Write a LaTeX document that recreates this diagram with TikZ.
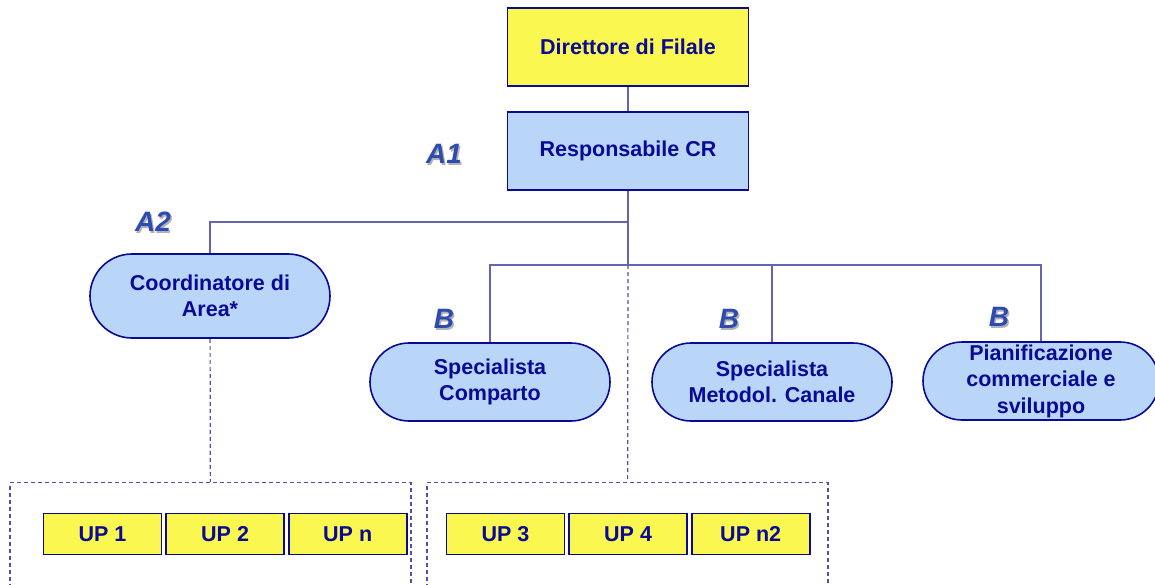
\documentclass[tikz,border=0pt]{standalone}
\usepackage{fontspec}
\setmainfont{Liberation Sans}
\usetikzlibrary{positioning,shapes.misc}
\definecolor{navy}{RGB}{10,10,150}
\definecolor{boxyellow}{RGB}{250,247,80}
\definecolor{boxblue}{RGB}{185,213,248}
\definecolor{linkblue}{RGB}{100,100,175}
\definecolor{dashblue}{RGB}{80,80,170}
\definecolor{tagblue}{RGB}{45,75,176}
\tikzset{
  orgbox/.style={rectangle, draw=navy, line width=1.6pt, text=navy, font=\fontsize{21.5}{26.5}\selectfont\bfseries, align=center, minimum width=241pt, minimum height=78pt, inner sep=0pt},
  pill/.style={rounded rectangle, draw=navy, line width=1.6pt, fill=boxblue, text=navy, font=\fontsize{21.5}{26.5}\selectfont\bfseries, align=center, minimum width=240pt, minimum height=78pt, inner sep=0pt},
  upbox/.style={rectangle, draw=navy, line width=1.6pt, fill=boxyellow, text=navy, font=\fontsize{21.5}{26.5}\selectfont\bfseries, minimum width=118pt, minimum height=41pt, inner sep=0pt},
  conn/.style={draw=linkblue, line width=1.3pt},
  dconn/.style={draw=dashblue, line width=1.2pt, dash pattern=on 4pt off 3pt},
  frame/.style={rectangle, draw=dashblue, line width=1.2pt, dash pattern=on 4pt off 3pt, minimum width=401pt, minimum height=140pt, anchor=north, inner sep=0pt},
  tag/.style={text=tagblue, font=\fontsize{28}{28}\selectfont\bfseries\itshape},
  tagshadow/.style={text=black!30, font=\fontsize{28}{28}\selectfont\bfseries\itshape}
}
\begin{document}
\begin{tikzpicture}[x=1pt,y=-1pt]
        \useasboundingbox (0,0) rectangle (1155,585);
        % top of the tree
        \node[orgbox, fill=boxyellow] (dir) at (628,47) {Direttore di Filale};
        \node[orgbox, fill=boxblue] (resp) at (628,151) {Responsabile CR};
        \node[pill, minimum height=84pt] (coord) at (210,296) {Coordinatore di\\Area*};
        \node[pill] (spcomp) at (490,382) {Specialista\\Comparto};
        \node[pill] (spcan) at (772,382) {Specialista\\Metodol. Canale};
        \node[pill, minimum width=236pt] (pian) at (1041,381) {Pianificazione\\commerciale e\\sviluppo};
        % dashed groups
        \node[frame] (grpL) at (210.5,482) {};
        \node[frame] (grpR) at (627.5,482) {};
        \node[upbox] (up1) at (102.5,534) {UP 1};
        \node[upbox, right=3pt of up1] (up2) {UP 2};
        \node[upbox, right=3pt of up2] (upn) {UP n};
        \node[upbox] (up3) at (505.5,534) {UP 3};
        \node[upbox, right=3pt of up3] (up4) {UP 4};
        \node[upbox, right=3pt of up4] (upn2) {UP n2};
        % connectors
        \coordinate (busA) at (628,222);
        \coordinate (busB) at (628,265);
        \draw[conn] (dir) -- (resp);
        \draw[conn] (resp) -- (busA) -| (coord);
        \draw[conn] (busA) -- (busB);
        \draw[conn] (busB) -| (spcomp);
        \draw[conn] (busB) -| (spcan);
        \draw[conn] (busB) -| (pian);
        \draw[dconn] (coord) -- (grpL);
        \draw[dconn] (busB) -- (grpR);
        % level tags
        \foreach \name/\txt/\px/\py in {tA1/A1/444/154, tA2/A2/153/222, tB1/B/444/319, tB2/B/729/319, tB3/B/999/317}{
          \node[tagshadow] at (\px+1.5,\py+1.5) {\txt};
          \node[tag] (\name) at (\px,\py) {\txt};
        }
\end{tikzpicture}
\end{document}
